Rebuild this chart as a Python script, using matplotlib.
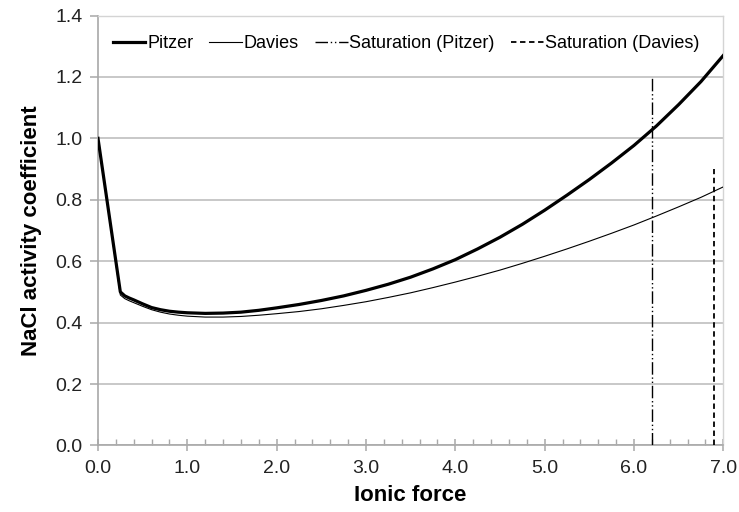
import matplotlib
matplotlib.use("Agg")
import matplotlib.pyplot as plt
from matplotlib.ticker import MultipleLocator, FormatStrFormatter

plt.rcParams['font.family'] = ['Liberation Sans', 'DejaVu Sans']

# Ionic force (x) and NaCl activity coefficients
ionic = [0.0, 0.25, 0.3, 0.35, 0.4, 0.5, 0.6, 0.7, 0.8, 0.9, 1.0, 1.2, 1.4,
         1.6, 1.8, 2.0, 2.25, 2.5, 2.75, 3.0, 3.25, 3.5, 3.75, 4.0, 4.25,
         4.5, 4.75, 5.0, 5.25, 5.5, 5.75, 6.0, 6.25, 6.5, 6.75, 7.0]
pitzer = [1.0, 0.50, 0.487, 0.480, 0.474, 0.461, 0.449, 0.442, 0.437, 0.434,
          0.432, 0.430, 0.431, 0.434, 0.440, 0.448, 0.459, 0.472, 0.487,
          0.505, 0.525, 0.548, 0.575, 0.605, 0.640, 0.678, 0.720, 0.766,
          0.815, 0.866, 0.920, 0.977, 1.040, 1.110, 1.185, 1.270]
davies = [1.0, 0.49, 0.478, 0.471, 0.465, 0.453, 0.442, 0.434, 0.428, 0.424,
          0.421, 0.418, 0.418, 0.420, 0.424, 0.429, 0.436, 0.445, 0.456,
          0.468, 0.482, 0.497, 0.514, 0.532, 0.551, 0.571, 0.593, 0.616,
          0.640, 0.665, 0.691, 0.718, 0.747, 0.777, 0.808, 0.842]

sat_pitzer_x = 6.2
sat_pitzer_top = 1.2
sat_davies_x = 6.9
sat_davies_top = 0.9

labels = ["Pitzer", "Davies", "Saturation (Pitzer)", "Saturation (Davies)"]

fig = plt.figure(figsize=(7.39, 5.12), dpi=100)
ax = fig.add_axes([0.1326, 0.130, 0.8462, 0.8397])

grid_c = "#c4c4c4"
ax.set_xlim(0, 7.0)
ax.set_ylim(0, 1.4)
ax.yaxis.set_major_locator(MultipleLocator(0.2))
ax.xaxis.set_major_locator(MultipleLocator(1.0))
ax.xaxis.set_minor_locator(MultipleLocator(0.2))
ax.xaxis.set_major_formatter(FormatStrFormatter("%.1f"))
ax.yaxis.set_major_formatter(FormatStrFormatter("%.1f"))
ax.grid(axis="y", color=grid_c, lw=1.3, zorder=0)
ax.set_axisbelow(True)

for s in ["top", "right"]:
    ax.spines[s].set_color("#d4d4d4")
    ax.spines[s].set_linewidth(1.0)
for s in ["left", "bottom"]:
    ax.spines[s].set_color("#a8a8a8")
    ax.spines[s].set_linewidth(1.2)

ax.tick_params(axis="x", which="major", direction="inout", length=9, width=1.1,
               color="#a8a8a8", labelsize=14, pad=6, labelcolor="#222222")
ax.tick_params(axis="x", which="minor", direction="in", length=4, width=1.0,
               color="#a8a8a8")
ax.tick_params(axis="y", which="major", direction="out", length=6, width=1.1,
               color="#a8a8a8", labelsize=14, pad=5, labelcolor="#222222")

l1, = ax.plot(ionic, pitzer, color="black", lw=2.3, zorder=3,
              solid_joinstyle="round")
l2, = ax.plot(ionic, davies, color="black", lw=0.8, zorder=3,
              solid_joinstyle="round")
l3, = ax.plot([sat_pitzer_x, sat_pitzer_x], [0, sat_pitzer_top], color="black",
              lw=1.0, dashes=(9, 2, 1, 2, 1, 2), zorder=3)
l4, = ax.plot([sat_davies_x, sat_davies_x], [0, sat_davies_top], color="black",
              lw=1.3, dashes=(3, 2), zorder=3)

ax.legend([l1, l2, l3, l4], labels, loc="center", bbox_to_anchor=(0.493, 0.934),
          ncol=4, frameon=False, fontsize=13, handlelength=1.8,
          handletextpad=0.1, columnspacing=0.9, borderaxespad=0)

ax.set_xlabel("Ionic force", fontsize=16, fontweight="bold", labelpad=6)
ax.set_ylabel("NaCl activity coefficient", fontsize=16, fontweight="bold", labelpad=10)

fig.savefig("out.png", dpi=100)
